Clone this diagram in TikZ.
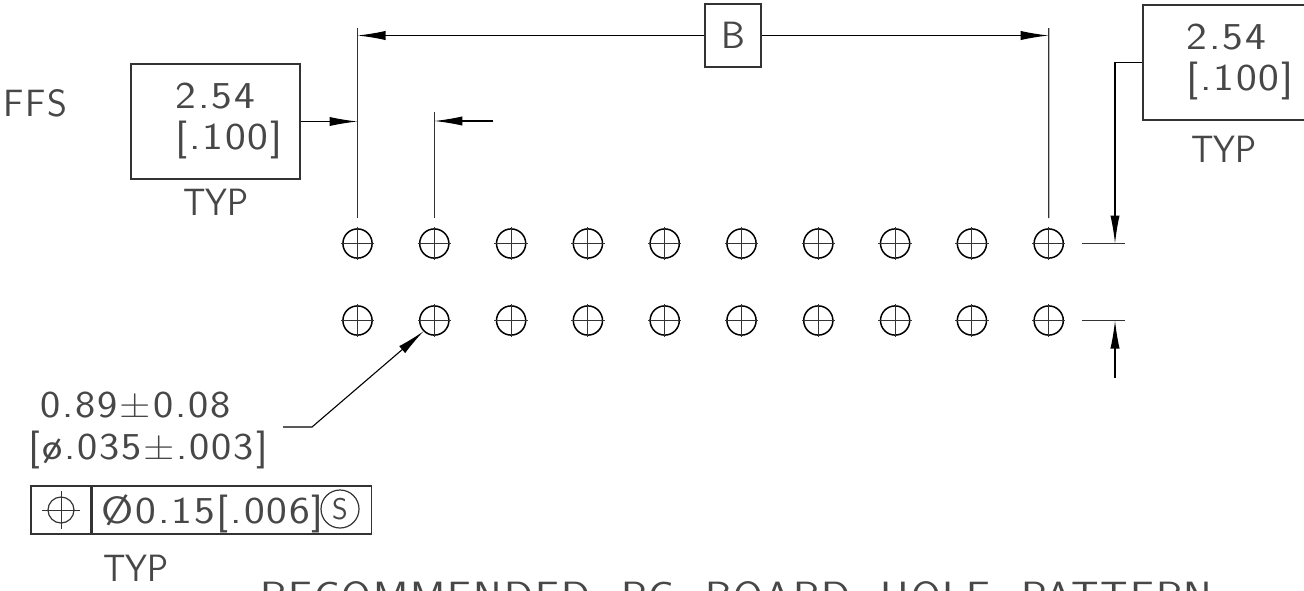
\documentclass[tikz,border=0pt]{standalone}
\usepackage{fontspec}
\newfontfamily\cadfont[LetterSpace=5]{Latin Modern Sans}
\newfontfamily\cadwide[LetterSpace=5,FakeStretch=1.16]{Latin Modern Sans}
\newfontfamily\cadmid[LetterSpace=5,FakeStretch=1.13]{Latin Modern Sans}
\newfontfamily\cadnarrow[FakeStretch=0.92]{Latin Modern Sans}
\usetikzlibrary{arrows.meta, positioning}

\definecolor{cadline}{gray}{0.2}
\definecolor{cadink}{gray}{0.28}
\tikzset{
    cadtext/.style={font=\cadwide\fontsize{19}{18.5}\selectfont, text=cadink, inner sep=0pt, anchor=base west},
    midtext/.style={cadtext, font=\cadmid\fontsize{19}{18.5}\selectfont},
    captext/.style={cadtext, font=\cadfont\fontsize{19}{18.5}\selectfont},
    typtext/.style={cadtext, font=\cadnarrow\fontsize{19}{18.5}\selectfont},
    boxline/.style={draw=cadline, line width=0.65pt, inner sep=0pt},
    extline/.style={draw=cadline, line width=0.65pt},
    dimline/.style={draw=black, line width=0.55pt, -{Latex[length=14pt,width=4.6pt]}},
    holemark/.style={circle, draw=black, line width=0.75pt, minimum size=14.6pt, inner sep=0pt},
    crossline/.style={draw=cadline, line width=0.5pt},
}

\begin{document}
\begin{tikzpicture}[x=0.5pt, y=-0.5pt]
\useasboundingbox (0,0) rectangle (1304,590);
\clip (0,0) rectangle (1304,590);

%% hole pattern
\foreach \i in {0,...,9} {
    \node[holemark] (ha\i) at (357.5+76.8*\i, 243.5) {};
    \node[holemark] (hb\i) at (357.5+76.8*\i, 320.5) {};
    \draw[crossline] ([yshift=0.7pt]ha\i.north) -- ([yshift=-0.7pt]ha\i.south);
    \draw[crossline] ([xshift=-0.7pt]ha\i.west) -- ([xshift=0.7pt]ha\i.east);
    \draw[crossline] ([yshift=0.7pt]hb\i.north) -- ([yshift=-0.7pt]hb\i.south);
    \draw[crossline] ([xshift=-0.7pt]hb\i.west) -- ([xshift=0.7pt]hb\i.east);
}

%% boxes
\node[boxline, minimum width=84.5pt, minimum height=57.5pt] (pitchL) at (215.5, 121.5) {};
\node[boxline, minimum width=28pt, minimum height=31.5pt] (dimB) at (733, 35.5) {};
\node[boxline, minimum width=90pt, minimum height=57.5pt] (pitchR) at (1233, 62.5) {};

%% texts
\node[captext] (ffs) at (3, 116) {FFS};
\node[cadtext] (pitchLa) at (175, 108) {2.54};
\node[cadtext] (pitchLb) at (175, 149) {[.100]};
\node[typtext] (typL) at (183, 215) {TYP};
\node[captext, anchor=center] (labelB) at (dimB) {B};
\node[cadtext] (pitchRa) at (1186, 49) {2.54};
\node[cadtext] (pitchRb) at (1186, 90) {[.100]};
\node[typtext] (typR) at (1191, 162) {TYP};
\node[midtext] (drillA) at (40, 417) {0.89±0.08};
\node[midtext] (drillB) at (28, 459) {[ø.035±.003]};
\node[typtext] (typF) at (103, 581) {TYP};
\node[midtext] (title) at (260, 608) {RECOMMENDED\ \ PC\ \ BOARD\ \ HOLE\ \ PATTERN};

%% feature control frame
\node[boxline, minimum width=30pt, minimum height=24pt] (fcfSym) at (61, 510) {};
\node[boxline, minimum width=139.5pt, minimum height=24pt, right=0pt of fcfSym] (fcfVal) {};
\node[circle, draw=cadline, line width=0.6pt, minimum size=19pt, inner sep=0pt] (fcfMod) at (340, 509) {};
\node[captext, anchor=center, font=\cadfont\fontsize{15}{15}\selectfont] (fcfS) at (fcfMod) {S};
\node[cadtext] (fcfText) at (101, 523) {Ø0.15[.006]};
\node[circle, draw=cadline, line width=0.6pt, minimum size=13pt, inner sep=0pt] (fcfHole) at (fcfSym) {};
\draw[crossline] ([yshift=2.5pt]fcfHole.north) -- ([yshift=-2.5pt]fcfHole.south);
\draw[crossline] ([xshift=-2.5pt]fcfHole.west) -- ([xshift=2.5pt]fcfHole.east);

%% extension lines
\coordinate (extA) at (357.5, 28);
\coordinate (extB) at (434.3, 112);
\coordinate (extC) at (1048.7, 28);
\draw[extline, shorten >=5pt] (extA) -- (ha0.north);
\draw[extline, shorten >=5pt] (extB) -- (ha1.north);
\draw[extline, shorten >=5pt] (extC) -- (ha9.north);

%% dimension arrows
\draw[dimline] (dimB.west) -- (extA |- dimB.west);
\draw[dimline] (dimB.east) -- (extC |- dimB.east);
\draw[dimline] (pitchL.east) -- (extA |- pitchL.east);
\coordinate (tailB) at (493, 121);
\draw[dimline] (tailB) -- (extB |- tailB);

%% right side spacing
\coordinate (rowTopA) at (1082, 243.5);
\coordinate (rowTopB) at (1125, 243.5);
\coordinate (rowBotA) at (1082, 320.5);
\coordinate (rowBotB) at (1125, 320.5);
\draw[extline] (rowTopA) -- (rowTopB);
\draw[extline] (rowBotA) -- (rowBotB);
\coordinate (kneeR) at (1115, 62.5);
\coordinate (tailR) at (1115, 378);
\draw[dimline] (pitchR.west) -- (kneeR) -- (kneeR |- rowTopA);
\draw[dimline] (tailR) -- (tailR |- rowBotA);

%% hole leader
\coordinate (leadStart) at (283, 427);
\coordinate (leadKnee) at (312, 427);
\draw[dimline] (leadStart) -- (leadKnee) -- (hb1.south west);

\end{tikzpicture}
\end{document}
